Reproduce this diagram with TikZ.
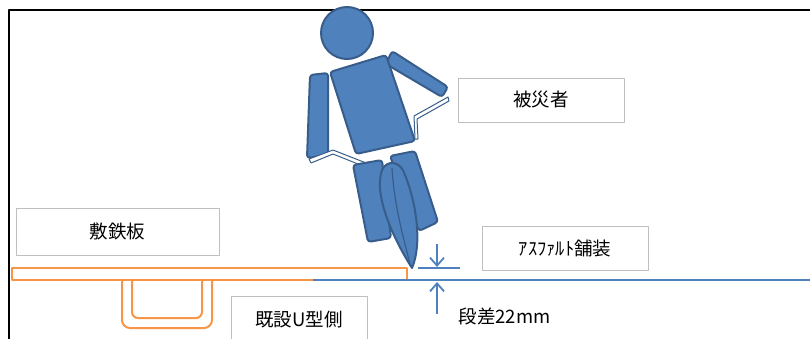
\documentclass[tikz,border=0pt]{standalone}
\usepackage{fontspec}
\setmainfont{Noto Sans CJK JP}
\usetikzlibrary{arrows.meta}
\definecolor{bodyblue}{RGB}{79,129,189}
\definecolor{bodyedge}{RGB}{56,93,138}
\definecolor{plateorange}{RGB}{247,150,70}
\definecolor{boxgray}{RGB}{191,191,191}

\begin{document}
\begin{tikzpicture}[x=1pt, y=-1pt, line join=round,
  every node/.style={font=\fontsize{18.5}{22}\selectfont},
  labelbox/.style={draw=boxgray, line width=1pt, fill=white, inner sep=0pt},
  limb/.style={fill=bodyblue, draw=bodyedge, line width=2pt, rounded corners=3pt},
  strap/.style={fill=white, draw=bodyedge, line width=1pt},
  dimarrow/.style={bodyblue, line width=1.8pt, -{Straight Barb[length=8pt,width=14pt]}}]
  \useasboundingbox (0,0) rectangle (810,338);
  \clip (0,0) rectangle (810,338);

  % Frame
  \draw[line width=2pt] (9,340) -- (9,10) -- (810,10);

  % Steel plate and existing U gutter
  \draw[plateorange, line width=2pt] (12,268) rectangle (407,280);
  \draw[plateorange, line width=2pt, rounded corners=8pt]
    (122,281) -- (122,328) -- (212,328) -- (212,281);
  \draw[plateorange, line width=2pt, rounded corners=6pt]
    (132,281) -- (132,318) -- (202,318) -- (202,281);

  % Asphalt surface
  \draw[bodyblue, line width=2pt] (313,280) -- (810,280);
  \draw[bodyblue, line width=2pt] (418,268) -- (460,268);

  % Step height arrows
  \coordinate (dnStart) at (437,244);
  \coordinate (stepTop) at (437,267);
  \coordinate (upStart) at (437,314);
  \coordinate (stepLow) at (437,282);
  \draw[dimarrow] (dnStart) -- (stepTop);
  \draw[dimarrow] (upStart) -- (stepLow);

  % Person: arms, torso, head
  \draw[limb] (310,75) -- (328,73) -- (328,155) -- (307,158) -- cycle;
  \draw[limb] (392,51) -- (448,87) -- (442,97) -- (386,64) -- cycle;
  \draw[limb] (330,72) -- (386,55) -- (415,141) -- (356,154) -- cycle;
  \draw[fill=bodyblue, draw=bodyedge, line width=2pt] (347,33) circle (26pt);

  % Hands on hips
  \draw[strap] (448,97) -- (414,116) -- (415,139) -- (418,139) -- (417,119) -- (449,101) -- cycle;
  \draw[strap] (309,159) -- (333,150) -- (384,170) -- (383,174) -- (333,154) -- (311,163) -- cycle;

  % Person: thighs and shin
  \draw[limb] (353,165) -- (382,160) -- (391,238) -- (368,242) -- cycle;
  \draw[limb] (390,156) -- (415,151) -- (438,222) -- (419,231) -- cycle;
  \draw[fill=bodyblue, draw=bodyedge, line width=2pt]
    (412,268) .. controls (394,240) and (373,195) .. (382,170)
    .. controls (387,159) and (401,161) .. (405,175)
    .. controls (417,205) and (422,245) .. (412,268) -- cycle;
  \draw[bodyedge, line width=1.2pt] (392,168) .. controls (394,205) and (404,240) .. (410,264);

  % Labels
  \node[labelbox, minimum width=166pt, minimum height=44pt] (victim) at (541,100) {被災者};
  \node[labelbox, minimum width=203pt, minimum height=47pt] (plate) at (117.5,231.5) {敷鉄板};
  \node[labelbox, minimum width=166pt, minimum height=44pt] (asphalt) at (565,248) {ｱｽﾌｧﾙﾄ舗装};
  \node[labelbox, minimum width=136pt, minimum height=48pt] (gutter) at (299,320) {既設U型側};
  \node[anchor=west] (step) at (455,316) {段差22mm};
\end{tikzpicture}
\end{document}
